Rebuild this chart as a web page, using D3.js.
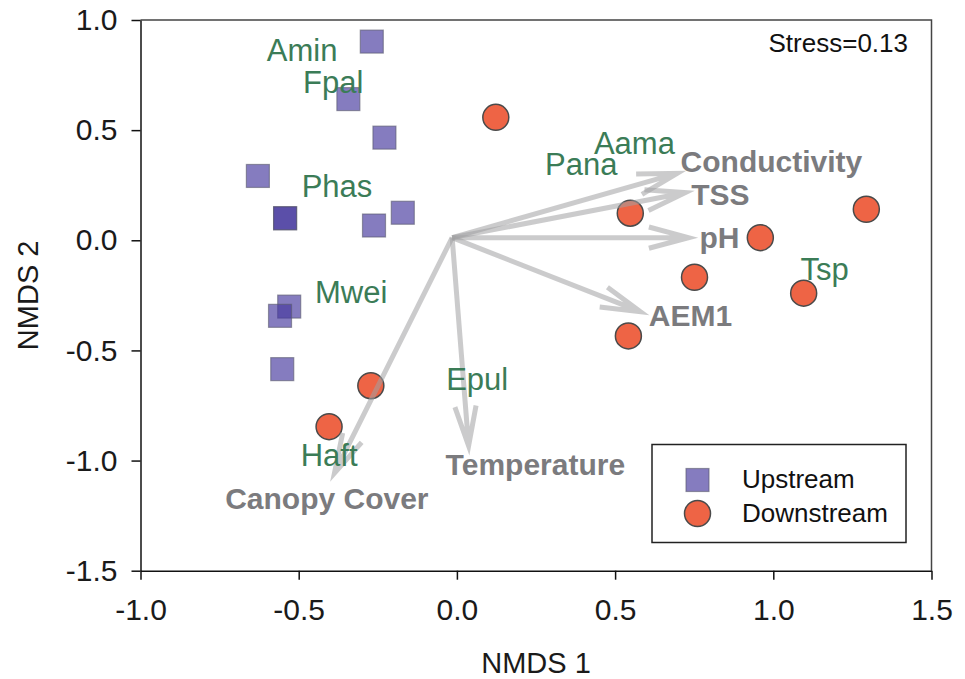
<!DOCTYPE html>
<html>
<head>
<meta charset="utf-8">
<script src="https://cdn.jsdelivr.net/npm/d3@7"></script>
<style>
  body { margin: 0; background: #fff; }
  svg { display: block; font-family: 'Liberation Sans', Arial, sans-serif; }
</style>
</head>
<body>
<svg width="965" height="679"></svg>
<script>
// site scores (NMDS 1, NMDS 2)
const upstreamX = [-0.269, -0.343, -0.229, -0.629, -0.543, -0.543, -0.262, -0.171, -0.530, -0.559, -0.552];
const upstreamY = [0.902, 0.641, 0.466, 0.292, 0.100, 0.100, 0.067, 0.125, -0.301, -0.343, -0.585];
const downstreamX = [0.123, 0.548, 1.294, 0.959, 0.751, 1.096, 0.542, -0.272, -0.404];
const downstreamY = [0.558, 0.123, 0.141, 0.012, -0.168, -0.240, -0.434, -0.660, -0.846];

// environmental vectors
const envNames = ['Conductivity', 'TSS', 'pH', 'AEM1', 'Temperature', 'Canopy Cover'];
const envTipX = [0.696, 0.722, 0.732, 0.580, 0.037, -0.387];
const envTipY = [0.304, 0.216, 0.012, -0.324, -0.933, -1.057];
const envLabelX = [0.994, 0.833, 0.830, 0.738, 0.248, -0.411];
const envLabelY = [0.312, 0.160, -0.036, -0.389, -1.065, -1.221];
const vectorOrigin = [-0.015, 0.012];

// species labels
const speciesNames = ['Amin', 'Fpal', 'Phas', 'Mwei', 'Aama', 'Pana', 'Tsp', 'Epul', 'Haft'];
const speciesX = [-0.489, -0.391, -0.379, -0.334, 0.561, 0.393, 1.162, 0.064, -0.404];
const speciesY = [0.814, 0.670, 0.195, -0.286, 0.390, 0.297, -0.180, -0.679, -1.024];

const xTicks = [-1.0, -0.5, 0.0, 0.5, 1.0, 1.5];
const yTicks = [-1.5, -1.0, -0.5, 0.0, 0.5, 1.0];
const stressLabel = 'Stress=0.13';
const groups = ['Upstream', 'Downstream'];

const margin = { top: 20, right: 33.5, bottom: 108.3, left: 140.5 };
const width = 965, height = 679;
const plotRight = width - margin.right;
const plotBottom = height - margin.bottom;

const xScale = d3.scaleLinear([-1, 1.5], [margin.left, plotRight]);
const yScale = d3.scaleLinear([-1.5, 1], [plotBottom, margin.top]);

const upColor = 'rgba(70,56,158,0.66)';
const downColor = '#ee6445';
const green = '#3b7c57';
const envGray = '#7b7b7e';

const svg = d3.select('svg');

// frame (top + right)
svg.append('path')
  .attr('d', `M${margin.left},${margin.top}H${plotRight}V${plotBottom}`)
  .attr('fill', 'none')
  .attr('stroke', '#444')
  .attr('stroke-width', 1.5);

const fmt = (d) => d.toFixed(1);

svg.append('g')
  .attr('transform', `translate(0, ${plotBottom})`)
  .call(d3.axisBottom(xScale).tickValues(xTicks).tickFormat(fmt).tickSize(9).tickSizeOuter(0).tickPadding(19));
svg.append('g')
  .attr('transform', `translate(${margin.left}, 0)`)
  .call(d3.axisLeft(yScale).tickValues(yTicks).tickFormat(fmt).tickSize(9).tickSizeOuter(0).tickPadding(14));

svg.selectAll('.domain').attr('stroke', '#111').attr('stroke-width', 1.5);
svg.selectAll('.tick line').attr('stroke', '#111').attr('stroke-width', 1.5);
svg.selectAll('.tick text')
  .style('font-family', "'Liberation Sans', Arial, sans-serif")
  .style('font-size', '30px')
  .attr('fill', '#1a1a1a');

svg.append('text')
  .text('NMDS 1')
  .attr('x', (margin.left + plotRight) / 2)
  .attr('y', 673)
  .attr('text-anchor', 'middle')
  .attr('font-size', 29)
  .attr('fill', '#1a1a1a');

svg.append('text')
  .text('NMDS 2')
  .attr('transform', `translate(38, ${(margin.top + plotBottom) / 2}) rotate(-90)`)
  .attr('text-anchor', 'middle')
  .attr('font-size', 29)
  .attr('fill', '#1a1a1a');

svg.append('text')
  .text(stressLabel)
  .attr('x', 908)
  .attr('y', 52)
  .attr('text-anchor', 'end')
  .attr('font-size', 26)
  .attr('fill', '#111');

// sites
const sq = 23;
svg.selectAll('rect.up')
  .data(d3.zip(upstreamX, upstreamY))
  .join('rect')
    .attr('class', 'up')
    .attr('x', (d) => xScale(d[0]) - sq / 2)
    .attr('y', (d) => yScale(d[1]) - sq / 2)
    .attr('width', sq)
    .attr('height', sq)
    .attr('fill', upColor)
    .attr('stroke', 'rgba(90,90,110,0.6)')
    .attr('stroke-width', 1.2);

svg.selectAll('circle.down')
  .data(d3.zip(downstreamX, downstreamY))
  .join('circle')
    .attr('class', 'down')
    .attr('cx', (d) => xScale(d[0]))
    .attr('cy', (d) => yScale(d[1]))
    .attr('r', 13)
    .attr('fill', downColor)
    .attr('stroke', '#4a4a4a')
    .attr('stroke-width', 1.5);

// vectors
const ox = xScale(vectorOrigin[0]);
const oy = yScale(vectorOrigin[1]);
const headLen = 41;
const headAngle = 15 * Math.PI / 180;
const vectorPath = (i) => {
  const tx = xScale(envTipX[i]);
  const ty = yScale(envTipY[i]);
  const a = Math.atan2(oy - ty, ox - tx);
  const p1 = [tx + headLen * Math.cos(a + headAngle), ty + headLen * Math.sin(a + headAngle)];
  const p2 = [tx + headLen * Math.cos(a - headAngle), ty + headLen * Math.sin(a - headAngle)];
  return `M${ox},${oy}L${tx},${ty}M${p1[0]},${p1[1]}L${tx},${ty}L${p2[0]},${p2[1]}`;
};

svg.append('g')
  .selectAll('path')
  .data(d3.range(envNames.length))
  .join('path')
    .attr('d', vectorPath)
    .attr('fill', 'none')
    .attr('stroke', 'rgba(160,160,162,0.55)')
    .attr('stroke-width', 5)
    .attr('stroke-linejoin', 'miter');

svg.append('g')
  .selectAll('text')
  .data(envNames)
  .join('text')
    .text((d) => d)
    .attr('x', (d, i) => xScale(envLabelX[i]))
    .attr('y', (d, i) => yScale(envLabelY[i]))
    .attr('text-anchor', 'middle')
    .attr('font-size', 30)
    .attr('font-weight', 'bold')
    .attr('fill', envGray);

svg.append('g')
  .selectAll('text')
  .data(speciesNames)
  .join('text')
    .text((d) => d)
    .attr('x', (d, i) => xScale(speciesX[i]))
    .attr('y', (d, i) => yScale(speciesY[i]))
    .attr('text-anchor', 'middle')
    .attr('font-size', 31)
    .attr('fill', green);

// legend
const legend = svg.append('g').attr('transform', 'translate(652, 444.5)');
legend.append('rect')
  .attr('width', 254)
  .attr('height', 98)
  .attr('fill', '#fff')
  .attr('stroke', '#222')
  .attr('stroke-width', 1.5);
legend.append('rect')
  .attr('x', 45.5 - sq / 2)
  .attr('y', 35.5 - sq / 2)
  .attr('width', sq)
  .attr('height', sq)
  .attr('fill', upColor)
  .attr('stroke', 'rgba(90,90,110,0.6)')
  .attr('stroke-width', 1.2);
legend.append('circle')
  .attr('cx', 45.5)
  .attr('cy', 69)
  .attr('r', 13)
  .attr('fill', downColor)
  .attr('stroke', '#4a4a4a')
  .attr('stroke-width', 1.5);
legend.selectAll('text.lab')
  .data(groups)
  .join('text')
    .attr('class', 'lab')
    .text((d) => d)
    .attr('x', 90)
    .attr('y', (d, i) => 43.5 + i * 33.5)
    .attr('font-size', 26)
    .attr('fill', '#111');
</script>
</body>
</html>
